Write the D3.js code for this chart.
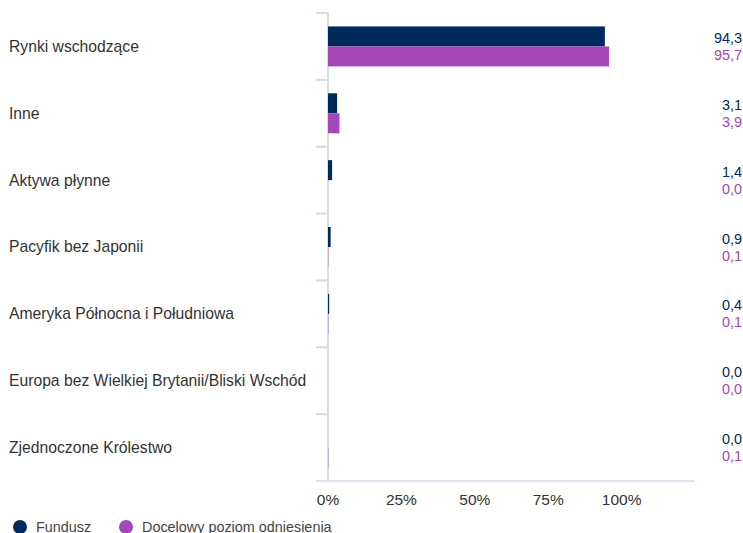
<!DOCTYPE html>
<html>
<head>
<meta charset="utf-8">
<script src="https://cdn.jsdelivr.net/npm/d3@7"></script>
<style>
  body { margin: 0; background: #fff; }
  svg { font-family: "Liberation Sans", Arial, sans-serif; }
</style>
</head>
<body>
<script>
const categories = [
  "Rynki wschodzące",
  "Inne",
  "Aktywa płynne",
  "Pacyfik bez Japonii",
  "Ameryka Północna i Południowa",
  "Europa bez Wielkiej Brytanii/Bliski Wschód",
  "Zjednoczone Królestwo"
];
const fundValues = [94.3, 3.1, 1.4, 0.9, 0.4, 0.0, 0.0];
const benchValues = [95.7, 3.9, 0.0, 0.1, 0.1, 0.0, 0.1];
const seriesNames = ["Fundusz", "Docelowy poziom odniesienia"];
const xTicks = [0, 25, 50, 75, 100];

const W = 743, H = 533;
const fundColor = "#002a5e", benchColor = "#a547b8";

const svg = d3.select("body").append("svg")
  .attr("width", W).attr("height", H);

const x = d3.scaleLinear().domain([0, 125]).range([328, 695]);
const y = d3.scaleBand().domain(categories).range([13, 481]);
const barH = 20;

// short separator ticks left of the axis
categories.forEach(c => {
  svg.append("line")
    .attr("x1", 316).attr("x2", 328)
    .attr("y1", y(c)).attr("y2", y(c))
    .attr("stroke", "#d5d9ea").attr("stroke-width", 2);
});

// bottom axis line
svg.append("line")
  .attr("x1", 316).attr("x2", 695)
  .attr("y1", 481).attr("y2", 481)
  .attr("stroke", "#d5d9ea").attr("stroke-width", 1.5);

// vertical axis line
svg.append("line")
  .attr("x1", 328).attr("x2", 328)
  .attr("y1", 13).attr("y2", 481)
  .attr("stroke", "#dcdcdc").attr("stroke-width", 2);

// bars
const mid = c => y(c) + y.bandwidth() / 2;
svg.selectAll(".fund").data(categories).enter().append("rect")
  .attr("x", x(0))
  .attr("y", c => mid(c) - barH)
  .attr("width", (c, i) => x(fundValues[i]) - x(0))
  .attr("height", barH)
  .attr("fill", fundColor);
svg.selectAll(".bench").data(categories).enter().append("rect")
  .attr("x", x(0))
  .attr("y", c => mid(c))
  .attr("width", (c, i) => x(benchValues[i]) - x(0))
  .attr("height", barH)
  .attr("fill", benchColor);

// category labels
svg.selectAll(".cat").data(categories).enter().append("text")
  .attr("x", 9)
  .attr("y", c => mid(c))
  .attr("dy", "0.35em")
  .attr("font-size", 15.7)
  .attr("fill", "#333")
  .text(c => c);

// value labels
const fmt = v => v.toFixed(1).replace(".", ",");
svg.selectAll(".fv").data(categories).enter().append("text")
  .attr("x", 742)
  .attr("y", c => mid(c) - 8.5)
  .attr("dy", "0.35em")
  .attr("text-anchor", "end")
  .attr("font-size", 14.4)
  .attr("fill", fundColor)
  .text((c, i) => fmt(fundValues[i]));
svg.selectAll(".bv").data(categories).enter().append("text")
  .attr("x", 742)
  .attr("y", c => mid(c) + 8.5)
  .attr("dy", "0.35em")
  .attr("text-anchor", "end")
  .attr("font-size", 14.4)
  .attr("fill", benchColor)
  .text((c, i) => fmt(benchValues[i]));

// x tick labels
svg.selectAll(".xt").data(xTicks).enter().append("text")
  .attr("x", d => x(d))
  .attr("y", 500)
  .attr("dy", "0.35em")
  .attr("text-anchor", "middle")
  .attr("font-size", 15.5)
  .attr("fill", "#333")
  .text(d => d + "%");

// legend (partly cut at the bottom, as in the original)
const legend = svg.append("g").attr("transform", "translate(0,527)");
const legX = [20, 126];
seriesNames.forEach((s, i) => {
  legend.append("circle")
    .attr("cx", legX[i]).attr("cy", 0).attr("r", 7)
    .attr("fill", i === 0 ? fundColor : benchColor);
  legend.append("text")
    .attr("x", legX[i] + 16).attr("y", 0)
    .attr("dy", "0.35em")
    .attr("font-size", 14.4)
    .attr("fill", "#444")
    .text(s);
});
</script>
</body>
</html>
